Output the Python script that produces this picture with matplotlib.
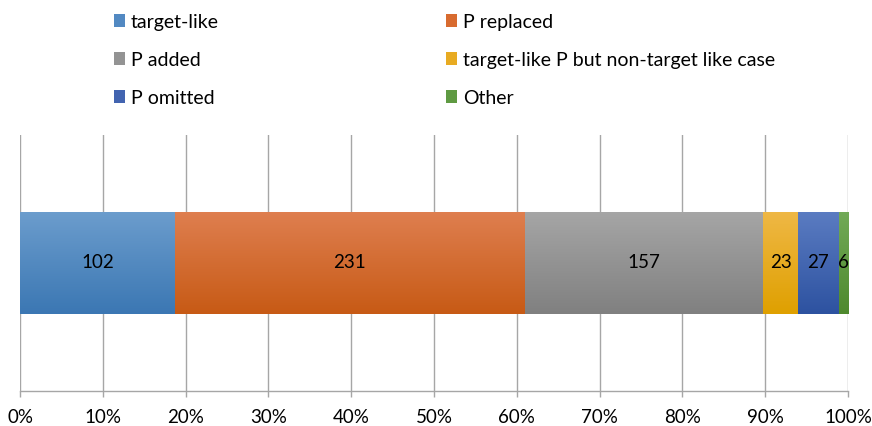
import numpy as np
import matplotlib.pyplot as plt
from matplotlib.colors import LinearSegmentedColormap
from matplotlib.patches import Patch
from matplotlib.ticker import PercentFormatter

plt.rcParams['font.family'] = ['Lato', 'DejaVu Sans']

# data
categories = ['target-like', 'P replaced', 'P added',
              'target-like P but non-target like case', 'P omitted', 'Other']
counts = [102, 231, 157, 23, 27, 6]
# (top, bottom) colours of each segment's vertical gradient
top_colors = ['#6c9dcd', '#df7f50', '#a6a6a6', '#efb846', '#5b7cc2', '#72aa58']
bottom_colors = ['#3b77b3', '#c75a15', '#808080', '#dfa000', '#2d52a0', '#4e892d']
legend_colors = ['#5289c2', '#d86b2f', '#939393', '#e8ab22', '#4264b0', '#5f9a42']

total = sum(counts)
shares = [c / total * 100 for c in counts]
lefts = np.concatenate([[0], np.cumsum(shares)[:-1]])

fig = plt.figure(figsize=(8.72, 4.26), dpi=100)
ax = fig.add_axes([20 / 872, 35 / 426, 828 / 872, 256 / 426])

bars = ax.barh(0, shares, left=lefts, height=0.4, color=bottom_colors,
               edgecolor='none', zorder=2)

# gradient fill clipped to each bar
grad = np.linspace(0, 1, 256).reshape(-1, 1)
for rect, c_top, c_bot in zip(bars, top_colors, bottom_colors):
    cmap = LinearSegmentedColormap.from_list('g', [c_top, c_bot])
    x0, y0 = rect.get_x(), rect.get_y()
    w, h = rect.get_width(), rect.get_height()
    im = ax.imshow(grad, cmap=cmap, aspect='auto',
                   extent=[x0, x0 + w, y0, y0 + h], origin='upper', zorder=3)
    im.set_clip_path(rect)

for left, share, n in zip(lefts, shares, counts):
    ax.text(left + share / 2, 0, str(n), ha='center', va='center',
            fontsize=13.5, color='black', zorder=4)

ax.set_xlim(0, 100)
ax.set_ylim(-0.5, 0.5)
ax.set_xticks(np.arange(0, 101, 10))
ax.xaxis.set_major_formatter(PercentFormatter(decimals=0))
ax.set_yticks([])
ax.grid(axis='x', color='#a6a6a6', linewidth=1.0, zorder=0)
for side in ['top', 'right', 'left']:
    ax.spines[side].set_visible(False)
ax.spines['bottom'].set_color('#a6a6a6')
ax.spines['bottom'].set_linewidth(1.0)
ax.tick_params(axis='x', direction='out', length=4, width=1.0,
               color='#a6a6a6', labelsize=13.5, pad=9)

# legend, filled row by row
handles = [Patch(facecolor=c, edgecolor='none') for c in legend_colors]
order = [0, 2, 4, 1, 3, 5]
fig.legend([handles[i] for i in order], [categories[i] for i in order],
           ncol=2, loc='upper left', bbox_to_anchor=(96 / 872, 1 + 4 / 426),
           frameon=False, fontsize=14, handlelength=0.6, handleheight=0.6,
           handletextpad=0.3, columnspacing=11.65, labelspacing=1.08)

fig.savefig('out.png', dpi=100)
